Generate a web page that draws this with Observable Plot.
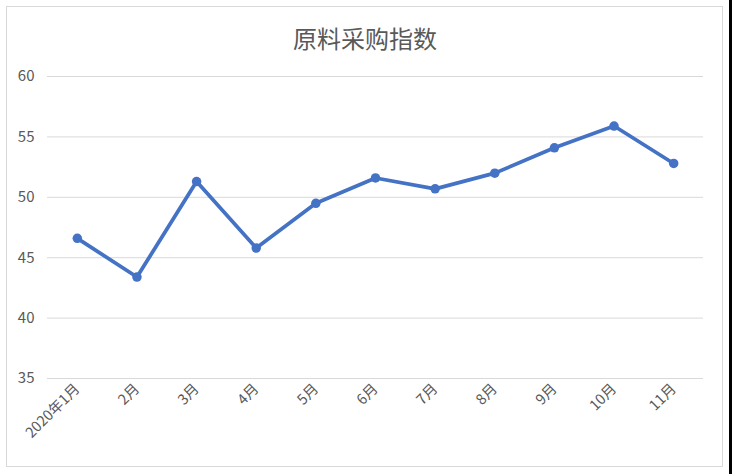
<!DOCTYPE html>
<html>
<head>
<meta charset="utf-8">
<script src="https://cdn.jsdelivr.net/npm/d3@7"></script>
<script src="https://cdn.jsdelivr.net/npm/@observablehq/plot@0.6"></script>
<style>
  html, body { margin: 0; padding: 0; background: #fff; }
  #wrap { position: relative; width: 732px; height: 474px; overflow: hidden; font-family: "Noto Sans CJK SC", "Noto Sans", sans-serif; }
  #frame { position: absolute; left: 6px; top: 6px; width: 717px; height: 461px; border: 1px solid #d9d9d9; box-sizing: border-box; }
  #edge { position: absolute; left: 729px; top: 0; width: 3px; height: 474px; background: #000; }
  #title { position: absolute; left: 0; top: 24px; width: 730px; text-align: center; font-size: 24px; line-height: 28px; color: #595959; }
  #chart { position: absolute; left: 0; top: 56px; }
</style>
</head>
<body>
<div id="wrap">
  <div id="frame"></div>
  <div id="edge"></div>
  <div id="title">原料采购指数</div>
  <div id="chart"></div>
</div>
<script>
// Monthly raw-material purchase index, 2020
const months = ["2020年1月", "2月", "3月", "4月", "5月", "6月", "7月", "8月", "9月", "10月", "11月"];
const values = [46.6, 43.4, 51.3, 45.8, 49.5, 51.6, 50.7, 52.0, 54.1, 55.9, 52.8];
const yTicks = [35, 40, 45, 50, 55, 60];

const data = months.map((m, i) => ({month: m, value: values[i]}));
const blue = "#4472C4";
const textColor = "#595959";

const chart = Plot.plot({
  width: 732,
  height: 418,
  marginTop: 20,
  marginBottom: 96,
  marginLeft: 47,
  marginRight: 29,
  style: {fontFamily: '"Noto Sans CJK SC", "Noto Sans", sans-serif', background: "transparent"},
  x: {type: "point", domain: months, padding: 0.5, round: false},
  y: {domain: [35, 60]},
  marks: [
    Plot.gridY(yTicks, {stroke: "#d9d9d9", strokeOpacity: 1, strokeWidth: 1}),
    Plot.axisY(yTicks, {tickSize: 0, tickPadding: 13, fontSize: 15, fill: textColor, label: null}),
    Plot.axisX({tickSize: 0, tickPadding: 8, tickRotate: -45, fontSize: 14.5, fill: textColor, label: null}),
    Plot.line(data, {x: "month", y: "value", stroke: blue, strokeWidth: 3.75, strokeLinejoin: "round"}),
    Plot.dot(data, {x: "month", y: "value", r: 4.75, fill: blue, stroke: null})
  ]
});
document.getElementById("chart").appendChild(chart);
</script>
</body>
</html>
